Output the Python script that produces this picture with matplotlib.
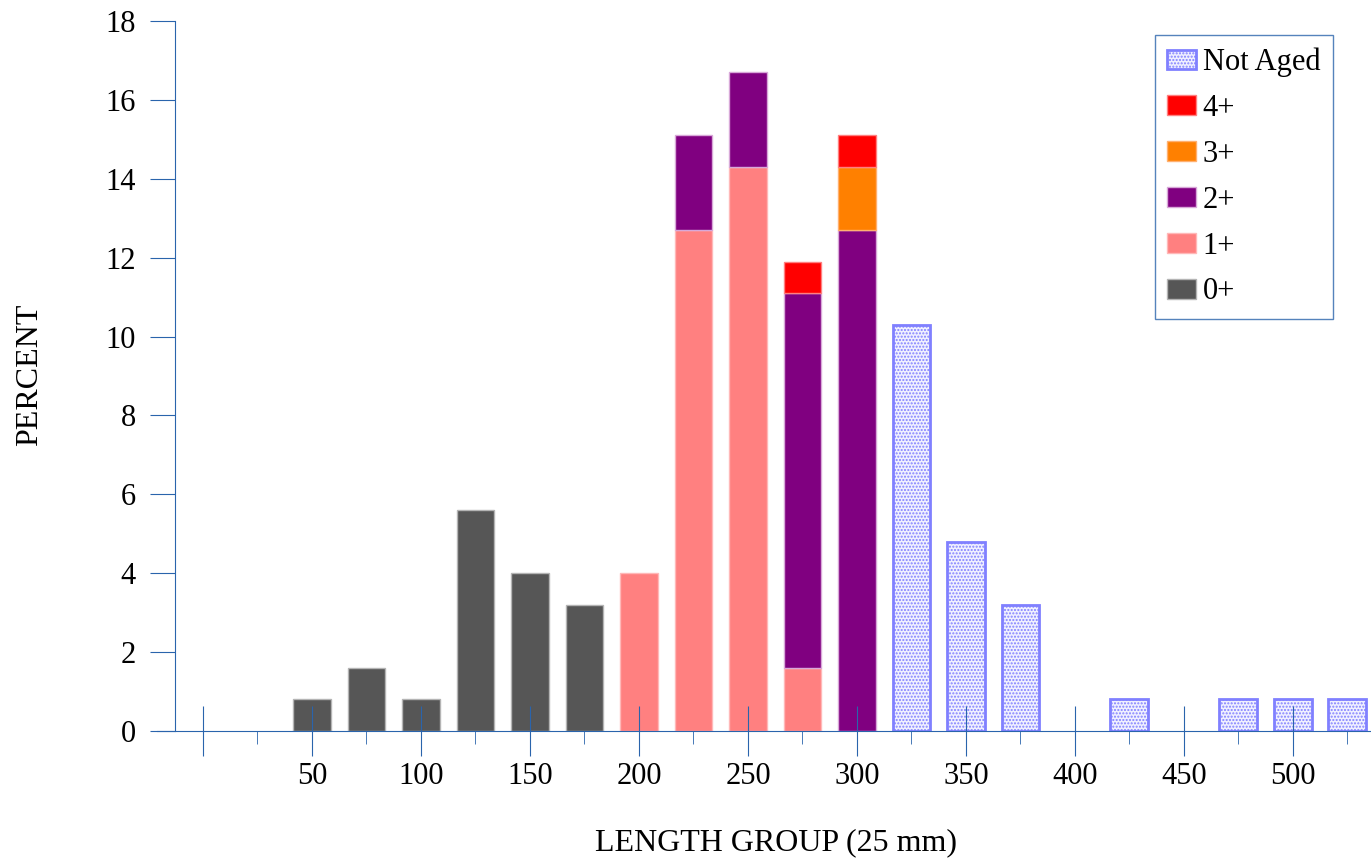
import numpy as np
import matplotlib
matplotlib.use('Agg')
import matplotlib.pyplot as plt

plt.rcParams['font.family'] = ['Liberation Serif', 'DejaVu Serif']

# ===== DATA (percent per 25 mm length group) =====
lengths = np.arange(50, 526, 25)
age0 = [0.8, 1.6, 0.8, 5.6, 4.0, 3.2, 0, 0, 0, 0, 0, 0, 0, 0, 0, 0, 0, 0, 0, 0]
age1 = [0, 0, 0, 0, 0, 0, 4.0, 12.7, 14.3, 1.6, 0, 0, 0, 0, 0, 0, 0, 0, 0, 0]
age2 = [0, 0, 0, 0, 0, 0, 0, 2.4, 2.4, 9.5, 12.7, 0, 0, 0, 0, 0, 0, 0, 0, 0]
age3 = [0, 0, 0, 0, 0, 0, 0, 0, 0, 0, 1.6, 0, 0, 0, 0, 0, 0, 0, 0, 0]
age4 = [0, 0, 0, 0, 0, 0, 0, 0, 0, 0.8, 0.8, 0, 0, 0, 0, 0, 0, 0, 0, 0]
not_aged = [0, 0, 0, 0, 0, 0, 0, 0, 0, 0, 0, 10.3, 4.8, 3.2, 0, 0.8, 0, 0.8, 0.8, 0.8]

series = [
    ('0+', age0, dict(facecolor='#565656', edgecolor='#b4b4b4', linewidth=1)),
    ('1+', age1, dict(facecolor='#ff8080', edgecolor='#ffb8b8', linewidth=1)),
    ('2+', age2, dict(facecolor='#800080', edgecolor='#d8a8d8', linewidth=1)),
    ('3+', age3, dict(facecolor='#ff8000', edgecolor='#ffb070', linewidth=1)),
    ('4+', age4, dict(facecolor='#ff0000', edgecolor='#ff8080', linewidth=1)),
    ('Not Aged', not_aged, dict(facecolor='#f0f0ff', edgecolor='#8080ff',
                                linewidth=2, hatch='.....')),
]

axis_col = '#2a64ac'
fs = 22

fig = plt.figure(figsize=(13.71, 8.60), dpi=100)
ax = fig.add_axes([157 / 1371, 129 / 860, 1214 / 1371, 710 / 860])

width = 17.4
bottom = np.zeros(len(lengths))
handles = {}
for name, vals, style in series:
    vals = np.array(vals, dtype=float)
    m = vals > 0
    b = ax.bar(lengths[m], vals[m], width=width, bottom=bottom[m], label=name, **style)
    handles[name] = b
    bottom += vals

ax.set_xlim(-21.1, 535.8)
ax.set_ylim(0, 18)

for s in ['top', 'right']:
    ax.spines[s].set_visible(False)
ax.spines['left'].set_position(('data', -12.84))
ax.spines['left'].set_color(axis_col)
ax.spines['bottom'].set_color(axis_col)

ax.set_yticks(np.arange(0, 19, 2))
ax.tick_params(axis='y', direction='out', length=18, color=axis_col,
               labelsize=fs, pad=10)

ax.set_xticks(np.arange(0, 501, 50))
ax.set_xticklabels([''] + [str(v) for v in range(50, 501, 50)])
ax.set_xticks(np.arange(25, 526, 50), minor=True)
ax.tick_params(axis='x', which='major', direction='inout', length=36,
               color=axis_col, labelsize=fs, pad=4)
ax.tick_params(axis='x', which='minor', direction='out', length=9,
               color=axis_col)

fig.text(30 / 1371, 1 - 375 / 860, 'PERCENT', rotation=90, fontsize=23,
         ha='center', va='center')
fig.text(776 / 1371, 1 - 843 / 860, 'LENGTH GROUP (25 mm)', fontsize=23,
         ha='center', va='center')

order = ['Not Aged', '4+', '3+', '2+', '1+', '0+']
leg = ax.legend([handles[n] for n in order], order, loc='upper right',
                bbox_to_anchor=(1333 / 1371, 1 - 35 / 860),
                bbox_transform=fig.transFigure, borderaxespad=0,
                fontsize=fs, frameon=True, fancybox=False,
                handlelength=0.95, handleheight=0.62, handletextpad=0.2,
                labelspacing=0.55, borderpad=0.42)
leg.get_frame().set_edgecolor(axis_col)
leg.get_frame().set_linewidth(1)

fig.savefig('out.png', dpi=100)
